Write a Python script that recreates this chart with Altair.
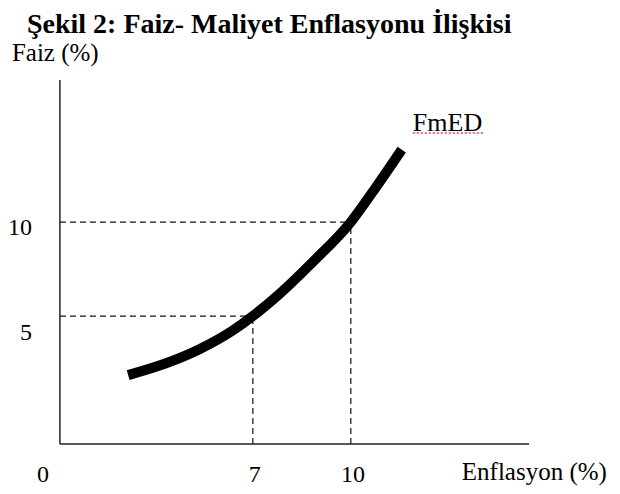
import altair as alt
import pandas as pd

# ---------------- data ----------------
TITLE = "Şekil 2: Faiz- Maliyet Enflasyonu İlişkisi"
Y_TITLE = "Faiz (%)"
X_TITLE = "Enflasyon (%)"
CURVE_LABEL = "FmED"

# FmED curve (enflasyon, faiz)
curve_x = [3.18, 4.36, 5.38, 6.40, 7.00, 7.83, 8.85, 10.00, 10.79, 11.56]
curve_y = [1.86, 2.50, 3.25, 4.25, 5.00, 6.20, 7.90, 10.00, 11.90, 13.85]

# dashed guide points
guide_x = [7, 10]
guide_y = [5, 10]

# tick labels
x_tick_labels = ["0", "7", "10"]
y_tick_labels = ["10", "5"]

# ---------------- layout (schematic axes) ----------------
ORIGIN_X, ORIGIN_Y = 1.09, -1.81
X_END, Y_END = 15.46, 17.55
x_label_pos = [0.57, 7.06, 10.07]
x_label_y = -3.46
y_label_x = 0.235
y_label_pos = [9.68, 4.10]

FONT = "Liberation Serif"
xs = alt.Scale(domain=[-0.5, 18.0], nice=False, zero=False)
ys = alt.Scale(domain=[-4.04, 19.47], nice=False, zero=False)


def X(f):
    return alt.X(f, type="quantitative", scale=xs, axis=None)


def Y(f):
    return alt.Y(f, type="quantitative", scale=ys, axis=None)


axes_df = pd.DataFrame({
    "x": [ORIGIN_X, ORIGIN_X], "x2": [X_END, ORIGIN_X],
    "y": [ORIGIN_Y, ORIGIN_Y], "y2": [ORIGIN_Y, Y_END],
})
axes = alt.Chart(axes_df).mark_rule(color="#222222", strokeWidth=1.5).encode(
    x=X("x"), x2="x2", y=Y("y"), y2="y2")

guide_rows = []
for gx, gy in zip(guide_x, guide_y):
    guide_rows.append({"x": ORIGIN_X, "x2": gx, "y": gy, "y2": gy})
    guide_rows.append({"x": gx, "x2": gx, "y": ORIGIN_Y, "y2": gy})
guides = alt.Chart(pd.DataFrame(guide_rows)).mark_rule(
    color="#111111", strokeWidth=1.2, strokeDash=[6, 4]).encode(
    x=X("x"), x2="x2", y=Y("y"), y2="y2")

curve_df = pd.DataFrame({"x": curve_x, "y": curve_y})
curve = alt.Chart(curve_df).mark_line(
    color="black", strokeWidth=10, strokeCap="butt", interpolate="monotone").encode(
    x=X("x"), y=Y("y"), order=alt.Order("x:Q"))

xt_df = pd.DataFrame({"x": x_label_pos, "y": [x_label_y] * 3, "t": x_tick_labels})
xticks = alt.Chart(xt_df).mark_text(font=FONT, fontSize=24, color="black",
                                    align="center", baseline="middle").encode(
    x=X("x"), y=Y("y"), text="t:N")

yt_df = pd.DataFrame({"x": [y_label_x] * 2, "y": y_label_pos, "t": y_tick_labels})
yticks = alt.Chart(yt_df).mark_text(font=FONT, fontSize=24, color="black",
                                    align="right", baseline="middle").encode(
    x=X("x"), y=Y("y"), text="t:N")

titles_df = pd.DataFrame({
    "x": [13.40, -0.38, 11.90],
    "y": [-3.30, 18.99, 15.27],
    "t": [X_TITLE, Y_TITLE, CURVE_LABEL],
    "s": [25, 25, 26],
})
titles = alt.Chart(titles_df).mark_text(font=FONT, color="black",
                                        align="left", baseline="middle").encode(
    x=X("x"), y=Y("y"), text="t:N", size=alt.Size("s:Q", scale=None, legend=None))

head_df = pd.DataFrame({"x": [0.08], "y": [20.05], "t": [TITLE]})
head = alt.Chart(head_df).mark_text(font=FONT, fontSize=28, fontWeight="bold",
                                    color="black", align="left",
                                    baseline="alphabetic").encode(
    x=X("x"), y=Y("y"), text="t:N")

squig_df = pd.DataFrame({"x": [11.90], "x2": [14.11], "y": [14.73]})
squiggle = alt.Chart(squig_df).mark_rule(color="#ff3b3b", strokeWidth=1.5,
                                         strokeDash=[2, 2]).encode(
    x=X("x"), x2="x2", y=Y("y"))

chart = alt.layer(guides, axes, curve, xticks, yticks, titles, head, squiggle).properties(
    width=604, height=442,
    autosize=alt.AutoSizeParams(type="none"),
    padding={"left": 0, "top": 36, "right": 0, "bottom": 0},
    background="white",
).configure_view(stroke=None, strokeWidth=0)

chart.save("out.html", embed_options={"renderer": "svg", "actions": False})
